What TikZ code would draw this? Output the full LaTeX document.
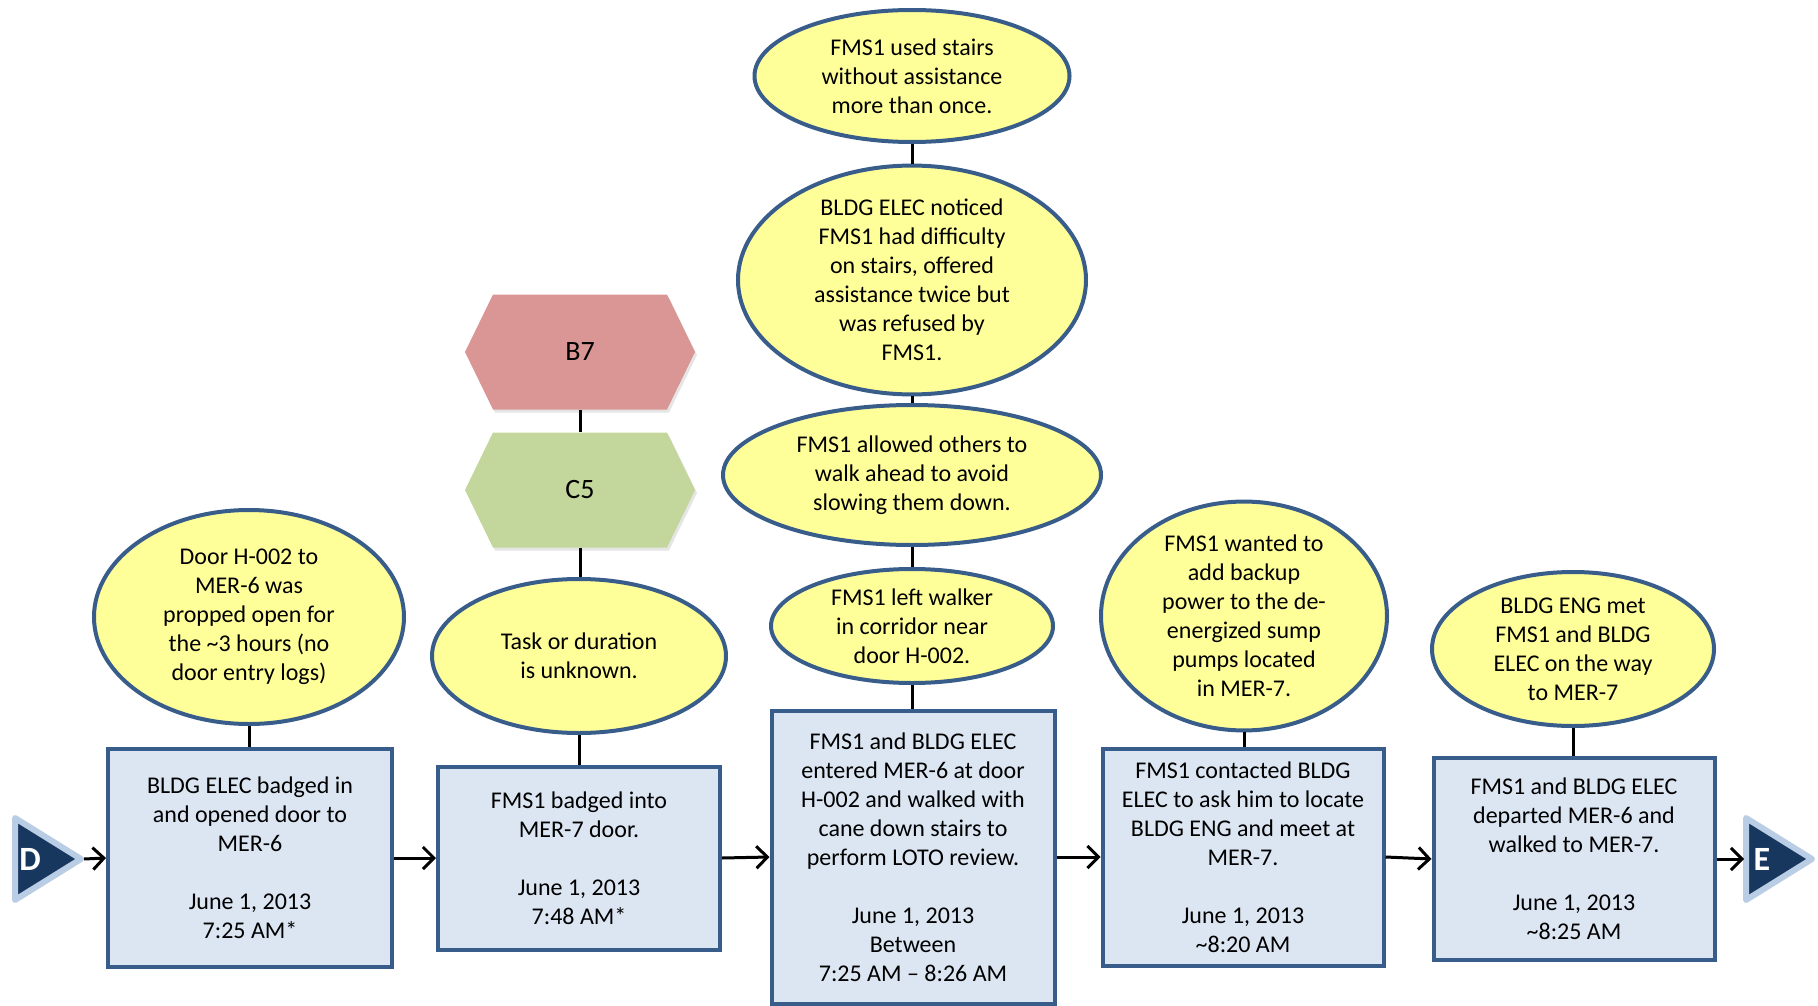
\documentclass[tikz,border=0pt]{standalone}
\usepackage{fontspec}
\setmainfont{Carlito}
\usetikzlibrary{shapes.geometric,arrows.meta,calc}
\definecolor{boxline}{HTML}{385D8A}
\definecolor{boxfill}{HTML}{DCE6F2}
\definecolor{ellfill}{HTML}{FFFF99}
\definecolor{trifill}{HTML}{17375E}
\definecolor{triline}{HTML}{B9CDE5}
\definecolor{hexred}{HTML}{D99694}
\definecolor{hexgreen}{HTML}{C3D69B}
\begin{document}
\begin{tikzpicture}[x=1pt,y=-1pt,
  txt/.style={font=\fontsize{24}{29}\selectfont, align=center, text=black},
  evbox/.style={txt, rectangle, draw=boxline, fill=boxfill, line width=4pt, inner sep=0pt},
  ell/.style={txt, ellipse, draw=boxline, fill=ellfill, line width=4pt, inner sep=0pt},
  hexlbl/.style={font=\fontsize{28}{32}\selectfont, text=black, rectangle, inner sep=0pt, minimum width=231pt, minimum height=115pt},
  conn/.style={line width=3pt, black},
  flow/.style={line width=3pt, black, -{Straight Barb[length=11pt,width=22pt]}},
  tri/.style={fill=trifill, draw=triline, line width=6pt, line join=round},
  trilbl/.style={text=white, font=\fontsize{34}{34}\selectfont\bfseries, inner sep=0pt}
]
\useasboundingbox (0,0) rectangle (1818,1006);

% triangles
\filldraw[tri] (15,818) -- (15,900) -- (81,859) -- cycle;
\node[trilbl] (D) at (30,859) {D};
\coordinate (Dtip) at (84,859);
\filldraw[tri] (1746,818) -- (1746,900) -- (1812,859) -- cycle;
\node[trilbl] (E) at (1762,859) {E};
\coordinate (Ein) at (1744,859);

% boxes
\node[evbox, minimum width=284pt, minimum height=218pt] (b1) at (250,858)
  {BLDG ELEC badged in\\ and opened door to\\ MER-6\\[29pt] June 1, 2013\\ 7:25 AM*};
\node[evbox, minimum width=282pt, minimum height=183pt] (b2) at (579,858)
  {FMS1 badged into\\ MER-7 door.\\[29pt] June 1, 2013\\ 7:48 AM*};
\node[evbox, minimum width=283pt, minimum height=293pt] (b3) at (913,857)
  {FMS1 and BLDG ELEC\\ entered MER-6 at door\\ H-002 and walked with\\ cane down stairs to\\ perform LOTO review.\\[29pt] June 1, 2013\\ Between\\ 7:25 AM -- 8:26 AM};
\node[evbox, minimum width=281pt, minimum height=217pt] (b4) at (1243,857)
  {FMS1 contacted BLDG\\ ELEC to ask him to locate\\ BLDG ENG and meet at\\ MER-7.\\[29pt] June 1, 2013\\ \textasciitilde8:20 AM};
\node[evbox, minimum width=281pt, minimum height=202pt] (b5) at (1574,859)
  {FMS1 and BLDG ELEC\\ departed MER-6 and\\ walked to MER-7.\\[29pt] June 1, 2013\\ \textasciitilde8:25 AM};

% ellipses
\node[ell, minimum width=310pt, minimum height=214pt] (e1) at (249,617)
  {Door H-002 to\\ MER-6 was\\ propped open for\\ the \textasciitilde3 hours (no\\ door entry logs)};
\node[ell, minimum width=294pt, minimum height=154pt] (e2) at (579,656)
  {Task or duration\\ is unknown.};
\node[ell, minimum width=315pt, minimum height=132pt] (t1) at (912,76)
  {FMS1 used stairs\\ without assistance\\ more than once.};
\node[ell, minimum width=348pt, minimum height=212pt] (t2) at (912,280)
  {BLDG ELEC noticed\\ FMS1 had difficulty\\ on stairs, offered\\ assistance twice but\\ was refused by\\ FMS1.};
\node[ell, minimum width=378pt, minimum height=140pt] (t3) at (912,475)
  {FMS1 allowed others to\\ walk ahead to avoid\\ slowing them down.};
\node[ell, minimum width=282pt, minimum height=114pt] (t4) at (912,626)
  {FMS1 left walker\\ in corridor near\\ door H-002.};
\node[ell, minimum width=286pt, minimum height=218pt] (e4) at (1244,616)
  {FMS1 wanted to\\ add backup\\ power to the de-\\ energized sump\\ pumps located\\ in MER-7.};
\node[ell, minimum width=282pt, minimum height=154pt] (e5) at (1573,649)
  {BLDG ENG met\\ FMS1 and BLDG\\ ELEC on the way\\ to MER-7};

% hexagons
\fill[black, opacity=0.10] (582,355) ++(-115,0) -- ++(28,-57.5) -- ++(174,0) -- ++(28,57.5) -- ++(-28,57.5) -- ++(-174,0) -- cycle;
\fill[hexred] (580,352) ++(-115,0) -- ++(28,-57.5) -- ++(174,0) -- ++(28,57.5) -- ++(-28,57.5) -- ++(-174,0) -- cycle;
\node[hexlbl] (b7) at (580,352) {B7};
\fill[black, opacity=0.10] (582,493) ++(-115,0) -- ++(28,-57.5) -- ++(174,0) -- ++(28,57.5) -- ++(-28,57.5) -- ++(-174,0) -- cycle;
\fill[hexgreen] (580,490) ++(-115,0) -- ++(28,-57.5) -- ++(174,0) -- ++(28,57.5) -- ++(-28,57.5) -- ++(-174,0) -- cycle;
\node[hexlbl] (c5) at (580,490) {C5};

% vertical connectors
\draw[conn] (e1.south) -- (e1.south |- b1.north);
\draw[conn] (e2.south) -- (e2.south |- b2.north);
\draw[conn] (c5.south) -- (c5.south |- e2.north);
\draw[conn] (b7.south) -- (b7.south |- c5.north);
\draw[conn] (t1.south) -- (t1.south |- t2.north);
\draw[conn] (t2.south) -- (t2.south |- t3.north);
\draw[conn] (t3.south) -- (t3.south |- t4.north);
\draw[conn] (t4.south) -- (t4.south |- b3.north);
\draw[conn] (e4.south) -- (e4.south |- b4.north);
\draw[conn] (e5.south) -- (e5.south |- b5.north);

% flow arrows
\draw[flow] (Dtip) -- (b1.west);
\draw[flow] (b1.east) -- (b2.west);
\draw[flow] (b2.east) -- (b3.west);
\draw[flow] (b3.east) -- (b4.west);
\draw[flow] (b4.east) -- (b5.west);
\draw[flow] (b5.east) -- (Ein);
\end{tikzpicture}
\end{document}
